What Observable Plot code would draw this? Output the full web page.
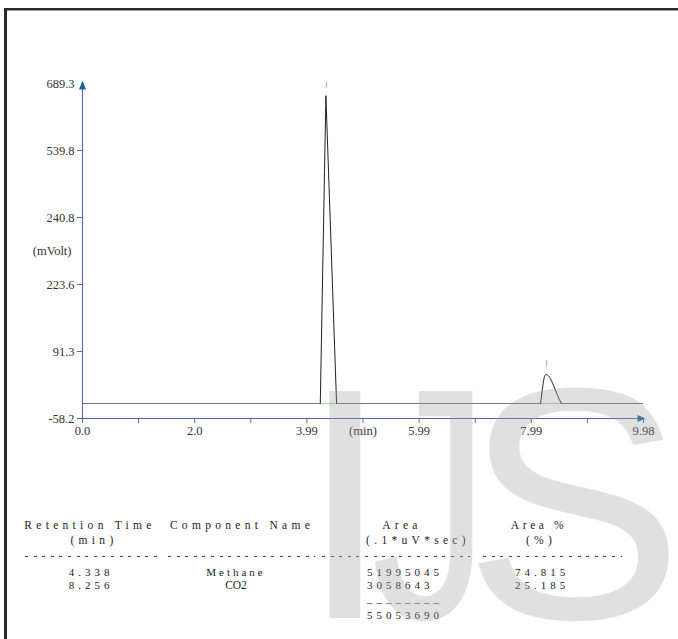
<!DOCTYPE html>
<html>
<head>
<meta charset="utf-8">
<script src="https://cdn.jsdelivr.net/npm/d3@7"></script>
<script src="https://cdn.jsdelivr.net/npm/@observablehq/plot@0.6"></script>
<style>
  html, body { margin: 0; padding: 0; background: #fff; }
  #wrap { position: relative; width: 678px; height: 639px; overflow: hidden; background: #fff;
          font-family: "Liberation Serif", "Times New Roman", serif; }
  #chart { position: absolute; left: 0; top: 0; }
  .bt { position: absolute; left: 4px; top: 8px; width: 674px; height: 2px; background: #2a2a2a; border-bottom: 1px solid #999; }
  .bl { position: absolute; left: 4px; top: 8px; width: 3px; height: 631px; background: #2a2a2a; }
  .cell { position: absolute; font-size: 11px; line-height: 12px; letter-spacing: 4px; color: #222; white-space: nowrap; }
  .hdr { font-size: 11.5px; letter-spacing: 4.3px; }
  .c { transform: translate(-50%, -50%); }
  .l { transform: translate(0, -50%); }
  .dash { position: absolute; height: 1px;
          background-image: repeating-linear-gradient(to right, #444 0 3px, transparent 3px 8.6px); }
  #wm { position: absolute; left: 299px; top: 339px; font-family: "Liberation Sans", Arial, sans-serif;
        font-size: 330px; line-height: 330px; color: rgba(160,160,160,0.32); white-space: nowrap; pointer-events: none; }
  #wm span { display: inline-block; }
</style>
</head>
<body>
<div id="wrap">
  <div id="chart"></div>
  <div class="bt"></div>
  <div class="bl"></div>
</div>
<script>
// ---- chart data ----
const xTicks = [0, 0.998, 1.996, 2.994, 3.992, 4.99, 5.988, 6.986, 7.984, 8.982, 9.98];
const xTickLabels = ["0.0", "", "2.0", "", "3.99", "(min)", "5.99", "", "7.99", "", "9.98"];
const yTicks = [-58.2, 91.3, 240.8, 390.3, 539.8, 689.3];
const yTickLabels = ["-58.2", "91.3", "223.6", "240.8", "539.8", "689.3"];
const yUnit = "(mVolt)";

const baselineLevel = -24.7;
const peak1Time   = [4.23, 4.33, 4.52];
const peak1Signal = [-24.7, 662, -24.7];
const peak2Time   = [8.15, 8.19, 8.22, 8.25, 8.31, 8.38, 8.45, 8.52];
const peak2Signal = [-24.7, 15.4, 35.5, 40, 33.3, 15.4, -6.9, -24.7];
const peakStart = [4.23, 8.15];
const peakEnd   = [4.52, 8.52];
const peakTop   = [662, 40];

// ---- table data ----
const headers1 = ["Retention Time", "Component Name", "Area", "Area %"];
const headers2 = ["(min)", "", "(.1*uV*sec)", "(%)"];
const retentionTimes = ["4.338", "8.256"];
const componentNames = ["Methane", "CO2"];
const areas = [51995045, 3058643];
const areaPercents = ["74.815", "25.185"];
const totalArea = 55053690;
const watermark = ["I", "J", "S"];

const axisLine = "#4a62b0";
const arrowFill = "#1f5f9c";

const upArrow = { draw(ctx) { ctx.moveTo(0, -3); ctx.lineTo(3.5, 6); ctx.lineTo(-3.5, 6); ctx.closePath(); } };
const rightArrow = { draw(ctx) { ctx.moveTo(2, 0); ctx.lineTo(-6, -3.5); ctx.lineTo(-6, 3.5); ctx.closePath(); } };
const vTick = { draw(ctx) { ctx.moveTo(0, -3); ctx.lineTo(0, 3); } };

const p1 = peak1Time.map((t, i) => ({t, v: peak1Signal[i]}));
const p2 = peak2Time.map((t, i) => ({t, v: peak2Signal[i]}));
const peaks = peakStart.map((s, i) => ({s, e: peakEnd[i], top: peakTop[i], rt: +retentionTimes[i]}));

const xMin = xTicks[0], xMax = xTicks[xTicks.length - 1];
const yMin = yTicks[0], yMax = yTicks[yTicks.length - 1];
const xLabelled = xTicks.filter((d, i) => xTickLabels[i] !== "");

const chart = Plot.plot({
  width: 678,
  height: 445,
  marginLeft: 82,
  marginRight: 35,
  marginTop: 83,
  marginBottom: 27,
  x: {domain: [xMin, xMax]},
  y: {domain: [yMin, yMax]},
  style: {fontFamily: "'Liberation Serif', 'Times New Roman', serif", fontSize: "12.5px", background: "transparent", color: "#333"},
  marks: [
    Plot.axisX({ticks: xTicks, tickSize: 5, stroke: "#667", fill: "none", label: null}),
    Plot.axisX({ticks: xLabelled, tickFormat: d => xTickLabels[xTicks.indexOf(d)], tickSize: 0, tickPadding: 8,
                fill: "#333", label: null}),
    Plot.axisY({ticks: yTicks.slice(0, -1), tickFormat: d => yTickLabels[yTicks.indexOf(d)], tickSize: 5, tickPadding: 3,
                stroke: "#667", fill: "#333", label: null}),
    Plot.axisY({ticks: [yMax], tickFormat: d => yTickLabels[yTicks.indexOf(d)], tickSize: 0, tickPadding: 8,
                fill: "#333", label: null}),
    Plot.text([yUnit], {frameAnchor: "left", textAnchor: "end", dx: -11, fill: "#333", text: d => d}),
    // baseline of the signal
    Plot.ruleY([baselineLevel], {x1: xMin, x2: xMax, stroke: "#777", strokeWidth: 1}),
    // integration baseline segments
    Plot.ruleY(peaks, {y: () => baselineLevel, x1: "s", x2: "e", stroke: "#a6dca0", strokeWidth: 1.2}),
    // peaks
    Plot.line(p1, {x: "t", y: "v", stroke: "#222", strokeWidth: 1}),
    Plot.line(p2, {x: "t", y: "v", stroke: "#222", strokeWidth: 1, curve: "monotone-x"}),
    // peak markers
    Plot.dot(peaks, {x: "rt", y: "top", symbol: vTick, stroke: "#ea8fa3", strokeWidth: 1, dy: -11}),
    // axis lines with arrows
    Plot.ruleX([xMin], {y1: yMin, y2: yMax, stroke: axisLine, strokeWidth: 1}),
    Plot.ruleY([yMin], {x1: xMin, x2: xMax, stroke: axisLine, strokeWidth: 1}),
    Plot.dot([0], {x: () => xMin, y: () => yMax, symbol: upArrow, fill: arrowFill, stroke: "none"}),
    Plot.dot([0], {x: () => xMax, y: () => yMin, symbol: rightArrow, fill: arrowFill, stroke: "none"})
  ]
});
document.getElementById("chart").appendChild(chart);

// ---- table ----
const wrap = document.getElementById("wrap");
function cell(text, x, y, cls, extra) {
  const d = document.createElement("div");
  d.className = "cell " + cls;
  d.textContent = text;
  d.style.left = x + "px";
  d.style.top = y + "px";
  if (extra) Object.assign(d.style, extra);
  wrap.appendChild(d);
  return d;
}
const colCenter = [90, 242, 402, 539];
const hdr2Center = [94, 242, 418, 541];
headers1.forEach((h, i) => cell(h, colCenter[i], 525, "c hdr", i === 3 ? {letterSpacing: "3.6px"} : null));
headers2.forEach((h, i) => { if (h) cell(h, hdr2Center[i], 540, "c hdr"); });
const dashSeg = [[25, 163], [168, 315], [322, 470], [483, 622]];
dashSeg.forEach(([a, b]) => {
  const d = document.createElement("div");
  d.className = "dash";
  d.style.left = a + "px"; d.style.width = (b - a) + "px"; d.style.top = "556px";
  wrap.appendChild(d);
});
const rowY = [572, 585];
retentionTimes.forEach((t, i) => cell(t, 91, rowY[i], "c"));
componentNames.forEach((n, i) => cell(n, 236, rowY[i], "c", /[a-z]/.test(n) ? {letterSpacing: "3px"} : {letterSpacing: "0px", fontSize: "11.5px"}));
areas.forEach((a, i) => cell(String(a), 367, rowY[i], "l"));
areaPercents.forEach((p, i) => cell(p, 515, rowY[i], "l"));
cell("_".repeat(String(totalArea).length), 367, 598, "l", {color: "#222"});
cell(String(totalArea), 367, 615, "l");

// ---- watermark ----
const wm = document.createElement("div");
wm.id = "wm";
const wmStyle = [
  {},
  {marginLeft: "-59px", transform: "scaleX(0.72)", transformOrigin: "140px 50%"},
  {marginLeft: "-33px"}
];
watermark.forEach((ch, i) => {
  const s = document.createElement("span");
  s.textContent = ch;
  Object.assign(s.style, wmStyle[i]);
  wm.appendChild(s);
});
wrap.appendChild(wm);
</script>
</body>
</html>
